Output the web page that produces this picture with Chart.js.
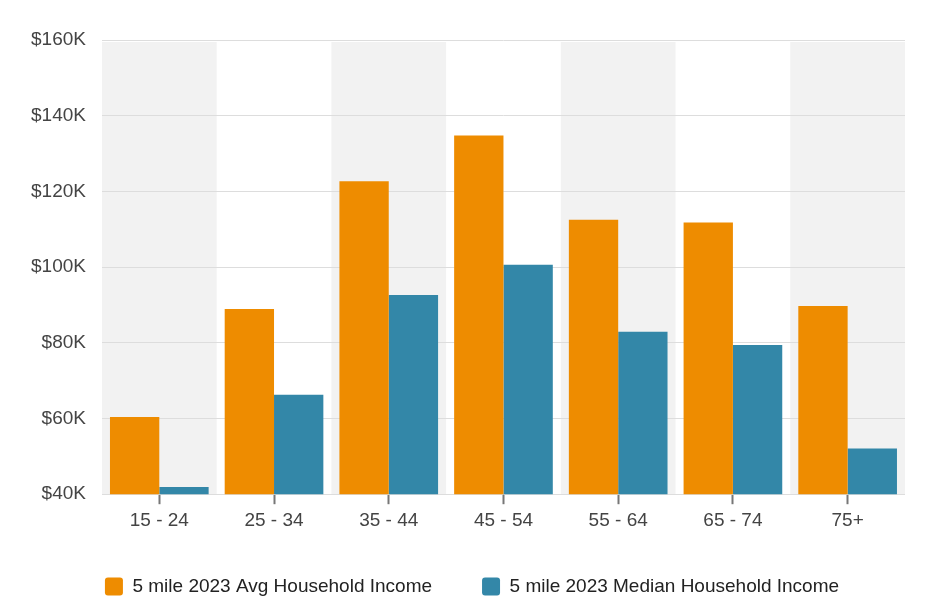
<!DOCTYPE html>
<html>
<head>
    <title>Household Income by Age</title>
    <script src="https://cdn.jsdelivr.net/npm/chart.js"></script>
    <style>
        html, body {
            margin: 0;
            padding: 0;
            background: #ffffff;
        }
        .chart-box {
            width: 947px;
            height: 616px;
        }
    </style>
</head>
<body>
    <div class="chart-box">
        <canvas id="incomeChart"></canvas>
    </div>

    <script>
        const ageGroups = ['15 - 24', '25 - 34', '35 - 44', '45 - 54', '55 - 64', '65 - 74', '75+'];
        const avgIncome = [60400, 88900, 122700, 134800, 112500, 111800, 89700];
        const medianIncome = [41900, 66300, 92600, 100600, 82900, 79400, 52100];
        const yTicks = [40000, 60000, 80000, 100000, 120000, 140000, 160000];

        const FONT = 'Liberation Sans, Arial, sans-serif';

        // grey bands behind every other age group (drawn before the grid)
        const bandPlugin = {
            id: 'bands',
            afterLayout(chart) {
                // center the legend on the page rather than on the padded box
                chart.legend.left += 12;
                chart.legend.right += 12;
            },
            beforeDraw(chart) {
                const ctx = chart.ctx;
                const x = chart.scales.x;
                const area = chart.chartArea;
                const w = x.width / ageGroups.length;
                ctx.save();
                ctx.fillStyle = '#f2f2f2';
                ageGroups.forEach((g, i) => {
                    if (i % 2 === 0) {
                        const c = x.getPixelForValue(i);
                        ctx.fillRect(c - w / 2, area.top + 2, w, area.bottom - area.top - 2);
                    }
                });
                ctx.restore();
            }
        };

        const ctx = document.getElementById('incomeChart').getContext('2d');
        new Chart(ctx, {
            type: 'bar',
            data: {
                labels: ageGroups,
                datasets: [{
                    label: '5 mile 2023 Avg Household Income',
                    data: avgIncome,
                    backgroundColor: '#ee8c00'
                }, {
                    label: '5 mile 2023 Median Household Income',
                    data: medianIncome,
                    backgroundColor: '#3387a8'
                }]
            },
            options: {
                responsive: true,
                maintainAspectRatio: false,
                animation: false,
                layout: {
                    padding: { left: 15, right: 42, top: 40, bottom: 10 }
                },
                datasets: {
                    bar: {
                        categoryPercentage: 0.86,
                        barPercentage: 1.0
                    }
                },
                plugins: {
                    legend: {
                        position: 'bottom',
                        labels: {
                            boxWidth: 18,
                            boxHeight: 18,
                            useBorderRadius: true,
                            borderRadius: 3,
                            padding: 50,
                            color: '#222',
                            font: { family: FONT, size: 19 }
                        }
                    },
                    tooltip: { enabled: false }
                },
                scales: {
                    x: {
                        border: { display: false },
                        afterFit(axis) {
                            axis.height -= 10;
                        },
                        grid: {
                            offset: false,
                            drawOnChartArea: false,
                            tickLength: 10,
                            tickWidth: 2,
                            tickColor: '#777'
                        },
                        ticks: {
                            color: '#444',
                            padding: 5,
                            font: { family: FONT, size: 19 }
                        }
                    },
                    y: {
                        min: 40000,
                        max: 160000,
                        border: { display: false },
                        afterBuildTicks(axis) {
                            axis.ticks = yTicks.map(v => ({ value: v }));
                        },
                        grid: {
                            color: '#dddddd',
                            drawTicks: false
                        },
                        ticks: {
                            color: '#444',
                            padding: 16,
                            font: { family: FONT, size: 19 },
                            callback: v => '$' + (v / 1000) + 'K'
                        }
                    }
                }
            },
            plugins: [bandPlugin]
        });
    </script>
</body>
</html>
